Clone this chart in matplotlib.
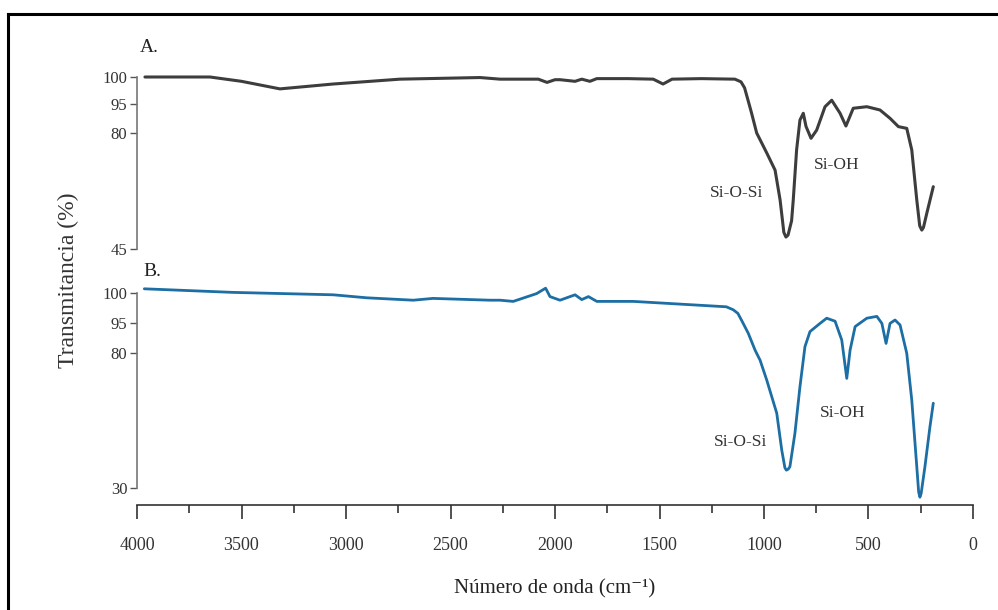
import numpy as np
import matplotlib.pyplot as plt
from matplotlib.ticker import MultipleLocator
from matplotlib.lines import Line2D

# Espectros FTIR (numero de onda cm-1, transmitancia %)
wn_a = [3962, 3651, 3500, 3316, 3062, 2742, 2359, 2263, 2080, 2038, 2000, 1976,
        1904, 1872, 1833, 1800, 1650, 1530, 1483, 1440, 1300, 1139, 1110, 1093,
        1075, 1060, 1035, 987, 947, 923, 905, 895, 885, 868, 860, 844, 828, 812,
        799, 775, 748, 708, 676, 636, 608, 573, 508, 445, 397, 357, 317, 293, 269,
        255, 245, 237, 221, 190]
tr_a = [100.0, 100.0, 99.2, 97.8, 98.7, 99.6, 99.9, 99.6, 99.6, 99.0, 99.5, 99.5,
        99.2, 99.6, 99.2, 99.7, 99.7, 99.6, 98.7, 99.6, 99.7, 99.6, 99.1, 98.0,
        95.5, 90.5, 80.0, 74.0, 68.8, 59.8, 50.0, 48.6, 49.2, 53.5, 59.8, 74.9,
        86.7, 90.2, 83.4, 78.4, 81.5, 93.6, 95.7, 90.2, 83.6, 92.8, 93.6, 91.9,
        87.6, 83.3, 82.4, 74.9, 59.8, 52.0, 50.7, 51.5, 55.8, 63.8]

wn_b = [3965, 3539, 3061, 2901, 2678, 2584, 2311, 2263, 2200, 2088, 2045, 2024,
        1976, 1904, 1872, 1840, 1800, 1625, 1180, 1147, 1125, 1105, 1075, 1043,
        1027, 1019, 987, 939, 915, 900, 893, 884, 876, 852, 828, 804, 780, 732,
        700, 660, 628, 604, 588, 564, 508, 460, 436, 416, 397, 373, 349, 317, 293,
        269, 260, 254, 248, 230, 206, 190]
tr_b = [100.7, 100.1, 99.7, 99.2, 98.8, 99.1, 98.8, 98.8, 98.6, 99.9, 100.8, 99.4,
        98.8, 99.7, 98.9, 99.4, 98.6, 98.6, 97.7, 97.2, 96.6, 95.3, 89.8, 81.5,
        78.6, 77.4, 70.0, 57.7, 44.0, 37.5, 36.6, 37.0, 37.9, 50.3, 67.5, 83.2,
        90.7, 94.8, 95.8, 95.3, 86.5, 70.6, 81.5, 93.2, 95.8, 96.1, 94.8, 84.8,
        94.8, 95.5, 94.0, 79.9, 62.6, 37.9, 28.5, 26.6, 28.0, 37.9, 52.7, 61.4]

yticks_a = [45, 80, 95, 100]
yticks_b = [30, 80, 95, 100]
xticks = [4000, 3500, 3000, 2500, 2000, 1500, 1000, 500, 0]

color_a = '#3d3d3d'
color_b = '#1c6ea4'
serif = ['Liberation Serif', 'DejaVu Serif']
plt.rcParams['font.family'] = serif


def escala(ticks, pos):
    # eje y no lineal: tramos lineales entre las marcas del original
    t = np.asarray(ticks, float)
    p = np.asarray(pos, float)
    s0 = (p[1] - p[0]) / (t[1] - t[0])
    s1 = (p[-1] - p[-2]) / (t[-1] - t[-2])

    def fwd(v):
        v = np.asarray(v, float)
        out = np.interp(v, t, p)
        out = np.where(v < t[0], p[0] + (v - t[0]) * s0, out)
        return np.where(v > t[-1], p[-1] + (v - t[-1]) * s1, out)

    def inv(y):
        y = np.asarray(y, float)
        out = np.interp(y, p, t)
        out = np.where(y < p[0], t[0] + (y - p[0]) / s0, out)
        return np.where(y > p[-1], t[-1] + (y - p[-1]) / s1, out)
    return fwd, inv


W, H = 998, 610
fig = plt.figure(figsize=(W / 100, H / 100), dpi=100)
x0, x1 = 137, 973

# panel A: 100->77px, 95->104, 80->133, 45->249
fa, ia = escala(yticks_a, [0, 116, 145, 172])
axA = fig.add_axes([x0 / W, 1 - 255 / H, (x1 - x0) / W, (255 - 70) / H])
axA.set_yscale('function', functions=(fa, ia))
axA.plot(wn_a, tr_a, color=color_a, lw=2.2, solid_capstyle='round',
         solid_joinstyle='round')
axA.set_ylim(float(ia(-6)), float(ia(179)))

# panel B: 100->293px, 95->323, 80->353, 30->488
fb, ib = escala(yticks_b, [0, 135, 165, 195])
axB = fig.add_axes([x0 / W, 1 - 505 / H, (x1 - x0) / W, (505 - 280) / H])
axB.set_yscale('function', functions=(fb, ib))
axB.plot(wn_b, tr_b, color=color_b, lw=2.0, solid_capstyle='round',
         solid_joinstyle='round')
axB.set_ylim(float(ib(-17)), float(ib(208)))

for ax, ticks in ((axA, yticks_a), (axB, yticks_b)):
    ax.set_xlim(4000, 0)
    for s in ('top', 'right', 'bottom'):
        ax.spines[s].set_visible(False)
    ax.spines['left'].set_bounds(ticks[0], ticks[-1])
    ax.spines['left'].set_color('#777777')
    ax.spines['left'].set_linewidth(1.2)
    ax.set_yticks(ticks)
    ax.set_yticklabels([str(t) for t in ticks])
    ax.tick_params(axis='y', length=5, width=1.0, color='#555555', pad=2,
                   labelsize=12, labelcolor='#333333')
    ax.yaxis.set_minor_locator(plt.NullLocator())
    ax.patch.set_visible(False)

axA.set_xticks([])
axB.spines['bottom'].set_visible(True)
axB.spines['bottom'].set_color('#333333')
axB.spines['bottom'].set_linewidth(1.2)
axB.set_xticks(xticks)
axB.set_xticklabels([str(t) for t in xticks])
axB.xaxis.set_minor_locator(MultipleLocator(250))
axB.tick_params(axis='x', which='major', length=10, width=1.2, color='#333333',
                pad=13, labelsize=13, labelcolor='#333333')
axB.tick_params(axis='x', which='minor', length=6, width=1.2, color='#333333')

axA.text(1130, 62, 'Si-O-Si', fontsize=12.5, color='#333333', ha='center', va='center')
axA.text(650, 70.3, 'Si-OH', fontsize=12.5, color='#333333', ha='center', va='center')
axB.text(1110, 47, 'Si-O-Si', fontsize=12.5, color='#333333', ha='center', va='center')
axB.text(625, 57.8, 'Si-OH', fontsize=12.5, color='#333333', ha='center', va='center')

fig.text(149 / W, 1 - 48 / H, 'A.', fontsize=14, color='#222222', ha='center', va='center')
fig.text(152 / W, 1 - 272 / H, 'B.', fontsize=14, color='#222222', ha='center', va='center')
fig.text(68 / W, 1 - 280 / H, 'Transmitancia (%)', fontsize=17, color='#333333',
         rotation=90, ha='center', va='center')
fig.text(555 / W, 1 - 589 / H, 'Número de onda (cm⁻¹)', fontsize=15, color='#222222',
         ha='center', va='center')

# marco del original (solo arriba e izquierda visibles)
fig.add_artist(Line2D([8 / W, 8 / W], [0, 1 - 14 / H], color='black', lw=2.2))
fig.add_artist(Line2D([8 / W, 1], [1 - 14 / H, 1 - 14 / H], color='black', lw=2.2))

fig.savefig('out.png', dpi=100, facecolor='white')
